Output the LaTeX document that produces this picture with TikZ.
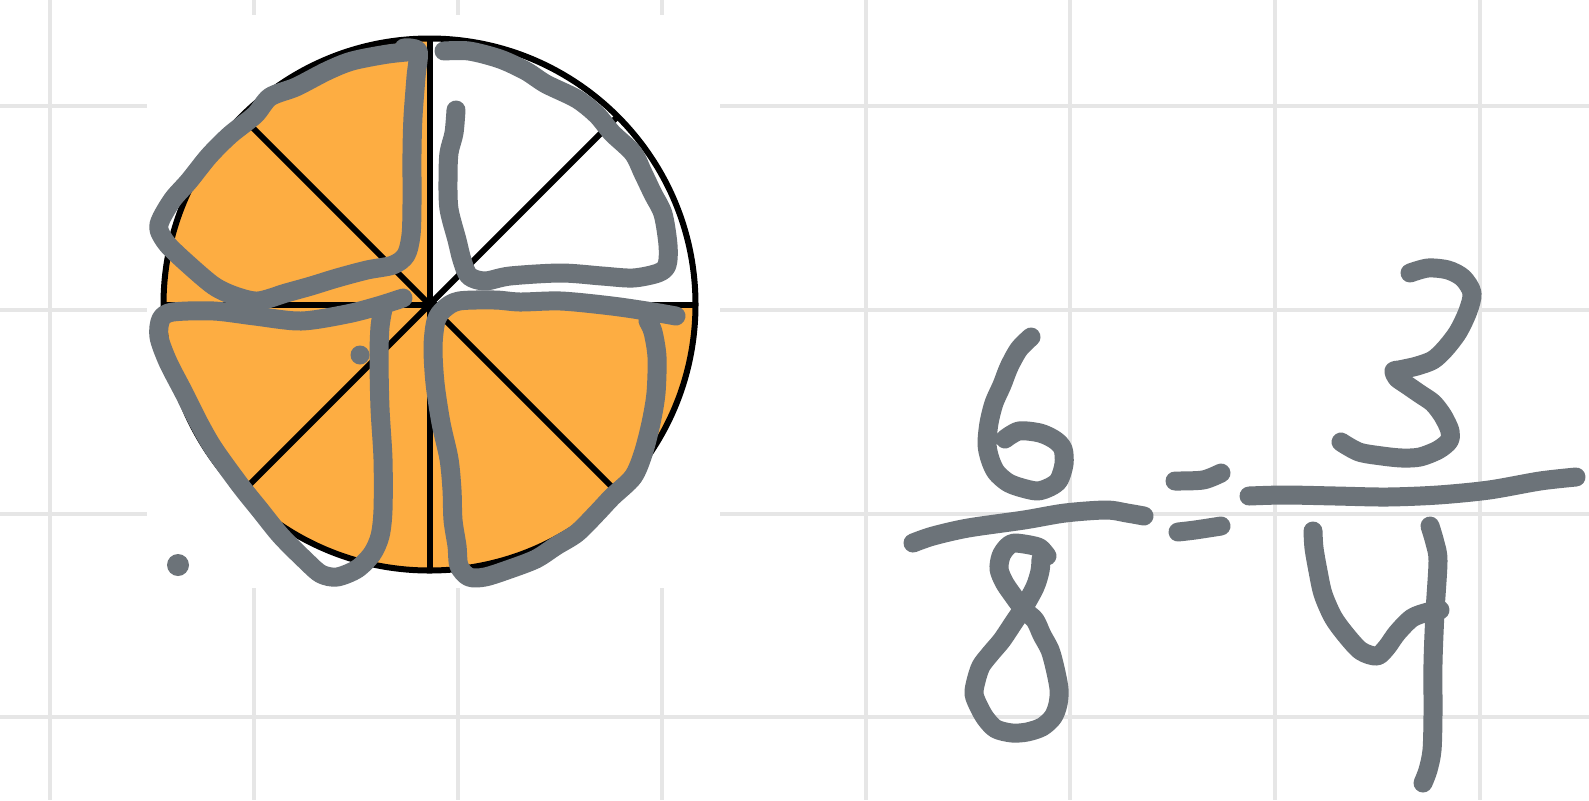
\documentclass[tikz,border=0pt]{standalone}
\definecolor{gridc}{HTML}{E6E6E6}
\definecolor{ink}{HTML}{6C7379}
\definecolor{fillor}{HTML}{FDAD42}
\begin{document}
\begin{tikzpicture}[x=0.5pt,y=-0.5pt,
  gridline/.style={draw=gridc,line width=2.4pt},
  handstroke/.style={draw=ink,line width=9.5pt,line cap=round,line join=round},
  blackline/.style={draw=black,line width=3pt},
  inkdot/.style={fill=ink}]
\useasboundingbox (0,0) rectangle (1589,800);
\fill[white] (0,0) rectangle (1589,800);
% grid
\foreach \x in {50,254,458,662,866,1070,1275,1480} \draw[gridline] (\x,0) -- (\x,800);
\foreach \y in {106,310,514,717} \draw[gridline] (0,\y) -- (1589,\y);
\fill[white] (147,15) rectangle (720,588);
% pie
\coordinate (c) at (429.5,304.5);
\fill[fillor] (c) circle[radius=266];
\fill[white] (c) -- (695.5,304.5) arc[start angle=0,end angle=-90,radius=266] -- cycle;
\draw[blackline] (c) circle[radius=266];
\draw[blackline] (c) -- ++(0,266) (c) -- ++(0,-266) (c) -- ++(266,0) (c) -- ++(-266,0);
\draw[blackline] (c) -- ++(188,188) (c) -- ++(-188,-188) (c) -- ++(188,-188) (c) -- ++(-188,188);
% strokes on pie
\draw[handstroke] plot[smooth,tension=0.5] coordinates {(404,48) (418,51) (416,77) (413,117) (412,153) (412,204) (411,235) (406,255) (393,265) (367,270) (337,278) (311,286) (286,293) (258,301) (235,296) (214,286) (189,265) (168,245) (159,230) (161,219) (173,199) (189,181) (209,156) (230,135) (255,115) (270,97) (296,87) (327,71) (352,61) (388,54) (418,51)};
\draw[handstroke] plot[smooth,tension=0.5] coordinates {(444,51) (469,51) (500,59) (526,71) (546,84) (577,99) (597,115) (612,133) (633,153) (643,173) (653,194) (663,214) (668,245) (667,265) (658,273) (633,278) (602,276) (561,273) (510,276) (485,281) (469,276) (462,260) (457,240) (449,209) (448,179) (449,153) (454,133) (456,110)};
\draw[handstroke] plot[smooth,tension=0.5] coordinates {(403,298) (378,306) (347,314) (301,321) (255,316) (214,311) (173,312) (161,319) (159,337) (168,362) (184,393) (199,423) (214,449) (240,485) (260,510) (281,536) (306,561) (321,574) (337,577) (357,569) (372,554) (380,536) (383,510) (383,459) (380,408) (379,357) (380,327) (383,309)};
\draw[handstroke] plot[smooth,tension=0.5] coordinates {(676,316) (653,312) (612,306) (561,301) (520,302) (495,300) (459,301) (444,309) (436,321) (433,347) (435,383) (441,423) (449,459) (452,490) (453,520) (457,546) (459,566) (469,577) (485,577) (510,569) (536,559) (556,546) (577,533) (597,513) (612,497) (633,477) (643,454) (651,423) (656,393) (657,357) (653,332) (648,321)};
\fill[inkdot] (360,355) circle[radius=9.5];
\fill[inkdot] (178,565) circle[radius=11];
% 6
\draw[handstroke] plot[smooth,tension=0.5] coordinates {(1031,337) (1019,349) (1009,367) (1002,385) (994,403) (989,423) (987,444) (990,459) (996,472) (1007,482) (1019,487) (1037,491) (1050,487) (1059,480) (1064,464) (1063,449) (1055,440) (1040,433) (1019,431) (1005,439)};
% left bar
\draw[handstroke] plot[smooth,tension=0.5] coordinates {(913,543) (933,536) (968,528) (1024,520) (1065,513) (1106,510) (1127,513) (1144,516)};
% 8
\draw[handstroke] plot[smooth,tension=0.5] coordinates {(1047,556) (1040,548) (1030,545) (1014,543) (1007,547) (1001,556) (999,569) (1004,582) (1012,594) (1024,610) (1035,620) (1042,635) (1050,650) (1055,668) (1059,689) (1058,704) (1053,717) (1042,727) (1027,732) (1012,733) (996,729) (986,719) (979,707) (974,694) (976,681) (981,666) (991,653) (1002,640) (1014,622) (1024,607) (1035,587) (1040,571) (1041,559)};
% equals
\draw[handstroke] plot[smooth,tension=0.5] coordinates {(1175,481) (1203,480) (1221,473)};
\draw[handstroke] plot[smooth,tension=0.5] coordinates {(1178,532) (1195,530) (1221,526)};
% right bar
\draw[handstroke] plot[smooth,tension=0.5] coordinates {(1249,496) (1285,495) (1336,496) (1387,497) (1438,495) (1489,490) (1540,481) (1576,477)};
% 3
\draw[handstroke] plot[smooth,tension=0.5] coordinates {(1410,273) (1428,268) (1448,270) (1463,278) (1472,293) (1468,311) (1458,332) (1445,349) (1433,360) (1417,366) (1399,370) (1394,371) (1397,378) (1407,385) (1420,394) (1433,403) (1443,416) (1450,431) (1449,441) (1438,450) (1420,457) (1402,458) (1382,456) (1359,452) (1341,442)};
% 4
\draw[handstroke] plot[smooth,tension=0.5] coordinates {(1313,531) (1314,548) (1318,571) (1323,594) (1333,617) (1346,635) (1361,651) (1377,656) (1387,647) (1397,633) (1412,618) (1428,612) (1440,610)};
\draw[handstroke] plot[smooth,tension=0.5] coordinates {(1430,526) (1435,543) (1438,561) (1435,612) (1433,663) (1433,714) (1432,750) (1428,770) (1423,783)};
\end{tikzpicture}
\end{document}
